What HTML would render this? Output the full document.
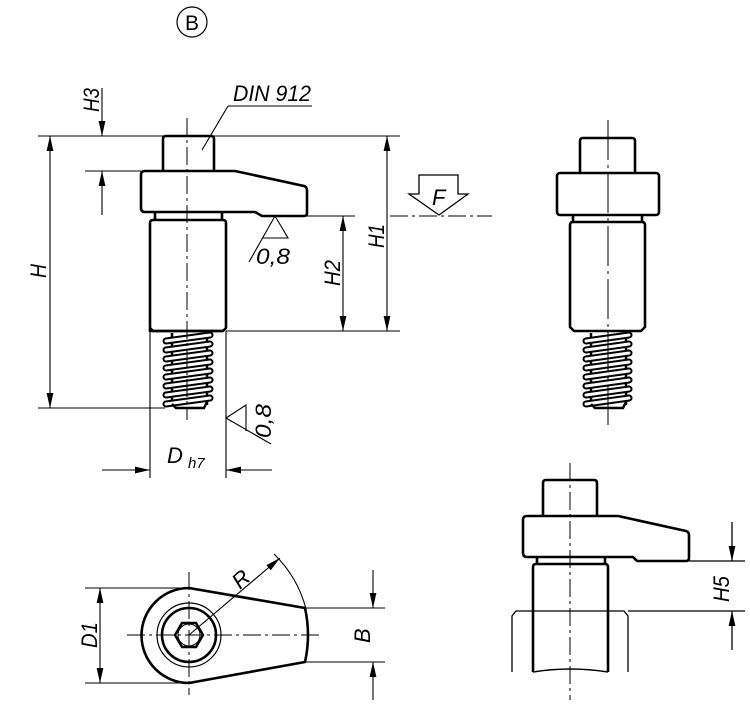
<!DOCTYPE html>
<html><head><meta charset="utf-8"><style>
html,body{margin:0;padding:0;background:#fff;}
svg{display:block;}
text{font-family:"Liberation Sans",sans-serif;font-style:italic;fill:#000;}
</style></head><body>
<svg width="750" height="706" viewBox="0 0 750 706" xmlns="http://www.w3.org/2000/svg">
<defs>
<marker id="a" viewBox="0 0 10 10" refX="10" refY="5" markerWidth="10" markerHeight="10" markerUnits="userSpaceOnUse" orient="auto-start-reverse" overflow="visible">
<path d="M-5,1.6 L10,5 L-5,8.4 Z" fill="#000"/>
</marker>
<g id="thr">
<line x1="0" y1="0" x2="0" y2="72" stroke="#000" stroke-width="2.5"/>
<line x1="35" y1="0" x2="35" y2="72" stroke="#000" stroke-width="2.5"/>
</g>
</defs>
<circle cx="192" cy="22" r="15" fill="none" stroke="#000" stroke-width="1.2"/>
<text x="192" y="30" font-size="21" text-anchor="middle" style="font-style:normal">B</text>

<!-- ===== LEFT MAIN VIEW ===== -->
<g fill="none" stroke="#000" stroke-width="2.6" stroke-linejoin="round">
<path d="M163,171 L163,139 Q163,136 166,136 L211,136 Q214,136 214,139 L214,171"/>
<path d="M145,171 L235,171 L304,186 Q307,187 307,190 L307,213 Q307,216 304,216 L262,216 L255,212 L145,212 Q141,212 141,208 L141,175 Q141,171 145,171 Z"/>
<path d="M155,212 L155,220 M222,212 L222,220"/>
<path d="M150,331 L150,223 Q150,220 153,220 L223,220 Q226,220 226,223 L226,328 L223,331 Z"/>
<path d="M150,328 L153,331 L223,331"/>
</g>
<g transform="translate(172,333)"><use href="#thr"/></g>
<g stroke-linecap="round" fill="none">
<g stroke="#000" stroke-width="7">
<line x1="166" y1="341" x2="210" y2="335"/><line x1="166" y1="350" x2="210" y2="344"/><line x1="166" y1="359" x2="210" y2="353"/><line x1="166" y1="368" x2="210" y2="362"/><line x1="166" y1="377" x2="210" y2="371"/><line x1="166" y1="386" x2="210" y2="380"/><line x1="166" y1="395" x2="210" y2="389"/><line x1="166" y1="404" x2="210" y2="398"/>
</g>
<g stroke="#fff" stroke-width="3">
<line x1="166" y1="341" x2="210" y2="335"/><line x1="166" y1="350" x2="210" y2="344"/><line x1="166" y1="359" x2="210" y2="353"/><line x1="166" y1="368" x2="210" y2="362"/><line x1="166" y1="377" x2="210" y2="371"/><line x1="166" y1="386" x2="210" y2="380"/><line x1="166" y1="395" x2="210" y2="389"/><line x1="166" y1="404" x2="210" y2="398"/>
</g>
</g>
<path d="M172,404 L176,408 L204,408 L207,402" fill="none" stroke="#000" stroke-width="2.5"/>
<line x1="187" y1="118" x2="187" y2="420" stroke="#000" stroke-width="1" stroke-dasharray="18,4,3,4"/>

<g stroke="#000" stroke-width="1.1" fill="none">
<line x1="38" y1="136" x2="400" y2="136"/>
<line x1="85" y1="171" x2="141" y2="171"/>
<line x1="38" y1="408" x2="165" y2="408"/>
<line x1="102" y1="88" x2="102" y2="136" marker-end="url(#a)"/>
<line x1="102" y1="215" x2="102" y2="171" marker-end="url(#a)"/>
<line x1="50" y1="136" x2="50" y2="408" marker-start="url(#a)" marker-end="url(#a)"/>
<line x1="228" y1="106" x2="312" y2="106"/>
<line x1="228" y1="106" x2="202" y2="150"/>
<line x1="307" y1="216" x2="355" y2="216"/>
<line x1="226" y1="331" x2="400" y2="331"/>
<line x1="387" y1="136" x2="387" y2="331" marker-start="url(#a)" marker-end="url(#a)"/>
<line x1="343" y1="216" x2="343" y2="331" marker-start="url(#a)" marker-end="url(#a)"/>
<line x1="390" y1="216" x2="492" y2="216" stroke-dasharray="18,4,3,4"/>
<path d="M419,175 L458,175 L458,194 L468,194 L439,215 L409,194 L419,194 Z" stroke-width="1.3"/>
<path d="M275,216 L288,238 L263,238 M275,216 L249,262"/>
<path d="M226,418 L246,405 L246,431 M226,418 L271,444"/>
<line x1="150" y1="331" x2="150" y2="478"/>
<line x1="226" y1="331" x2="226" y2="478"/>
<line x1="102" y1="470" x2="150" y2="470" marker-end="url(#a)"/>
<line x1="272" y1="470" x2="226" y2="470" marker-end="url(#a)"/>
</g>
<text x="233" y="101" font-size="22" textLength="78" lengthAdjust="spacingAndGlyphs">DIN 912</text>
<text transform="translate(99,112) rotate(-90)" font-size="22" textLength="24" lengthAdjust="spacingAndGlyphs">H3</text>
<text transform="translate(46,278) rotate(-90)" font-size="22" textLength="14" lengthAdjust="spacingAndGlyphs">H</text>
<text transform="translate(384,248) rotate(-90)" font-size="22" textLength="24" lengthAdjust="spacingAndGlyphs">H1</text>
<text transform="translate(340,286) rotate(-90)" font-size="22" textLength="26" lengthAdjust="spacingAndGlyphs">H2</text>
<text x="432" y="205" font-size="22">F</text>
<text x="256" y="264" font-size="22" textLength="34" lengthAdjust="spacingAndGlyphs">0,8</text>
<text transform="translate(271,438) rotate(-90)" font-size="22" textLength="34" lengthAdjust="spacingAndGlyphs">0,8</text>
<text x="167" y="463" font-size="22">D</text>
<text x="188" y="468" font-size="15">h7</text>

<!-- ===== RIGHT TOP VIEW ===== -->
<g fill="none" stroke="#000" stroke-width="2.6" stroke-linejoin="round">
<path d="M580,173 L580,141 Q580,138 583,138 L632,138 Q635,138 635,141 L635,173"/>
<rect x="557" y="173" width="102" height="42" rx="3"/>
<path d="M573,215 L573,222 M642,215 L642,222"/>
<path d="M570,327 L570,225 Q570,222 573,222 L642,222 Q645,222 645,225 L645,327 L641,331 L574,331 Z"/>
</g>
<g transform="translate(591,333)"><use href="#thr"/></g>
<g stroke-linecap="round" fill="none">
<g stroke="#000" stroke-width="7">
<line x1="586" y1="341" x2="629" y2="335"/><line x1="586" y1="350" x2="629" y2="344"/><line x1="586" y1="359" x2="629" y2="353"/><line x1="586" y1="368" x2="629" y2="362"/><line x1="586" y1="377" x2="629" y2="371"/><line x1="586" y1="386" x2="629" y2="380"/><line x1="586" y1="395" x2="629" y2="389"/><line x1="586" y1="404" x2="629" y2="398"/>
</g>
<g stroke="#fff" stroke-width="3">
<line x1="586" y1="341" x2="629" y2="335"/><line x1="586" y1="350" x2="629" y2="344"/><line x1="586" y1="359" x2="629" y2="353"/><line x1="586" y1="368" x2="629" y2="362"/><line x1="586" y1="377" x2="629" y2="371"/><line x1="586" y1="386" x2="629" y2="380"/><line x1="586" y1="395" x2="629" y2="389"/><line x1="586" y1="404" x2="629" y2="398"/>
</g>
</g>
<path d="M591,404 L595,408 L623,408 L626,402" fill="none" stroke="#000" stroke-width="2.5"/>
<line x1="608" y1="120" x2="608" y2="430" stroke="#000" stroke-width="1" stroke-dasharray="40,5,3,5"/>

<!-- ===== BOTTOM RIGHT VIEW ===== -->
<g fill="none" stroke="#000" stroke-width="1.3">
<path d="M512,672 L512,616 L516,611 L624,611 L628,616 L628,672"/>
<line x1="628" y1="611" x2="745" y2="611"/>
<line x1="689" y1="561" x2="745" y2="561"/>
<line x1="732" y1="522" x2="732" y2="561" marker-end="url(#a)"/>
<line x1="732" y1="650" x2="732" y2="611" marker-end="url(#a)"/>
</g>
<g fill="none" stroke="#000" stroke-width="2.6" stroke-linejoin="round">
<path d="M543,516 L543,483 Q543,480 546,480 L594,480 Q597,480 597,483 L597,516"/>
<path d="M527,516 L618,516 L686,531 Q689,532 689,535 L689,558 Q689,561 686,561 L637,561 L633,557 L527,557 Q523,557 523,553 L523,520 Q523,516 527,516 Z"/>
<path d="M537,557 L537,564 M605,557 L605,564"/>
<path d="M533,672 L533,567 Q533,564 536,564 L605,564 Q608,564 608,567 L608,672"/>
<path d="M533,672 Q570,666 608,672" stroke-width="1.5"/>
</g>
<line x1="570" y1="463" x2="570" y2="700" stroke="#000" stroke-width="1" stroke-dasharray="18,4,3,4"/>
<text transform="translate(729,602) rotate(-90)" font-size="22" textLength="26" lengthAdjust="spacingAndGlyphs">H5</text>

<!-- ===== BOTTOM LEFT TOP VIEW ===== -->
<g fill="none" stroke="#000">
<path d="M189,588 L305,608 Q311,635 305,662 L189,683 A47.5,47.5 0 0 1 189,588 Z" stroke-width="2.6" stroke-linejoin="round"/>
<circle cx="189" cy="635" r="32" stroke-width="1.2"/>
<circle cx="189" cy="635" r="27" stroke-width="2.6"/>
<polygon points="203,635 196,647 182,647 175,635 182,623 196,623" stroke-width="2.4"/>
<circle cx="189" cy="635" r="11" stroke-width="1"/>
<line x1="127" y1="635" x2="322" y2="635" stroke-width="1" stroke-dasharray="18,4,3,4"/>
<line x1="189" y1="572" x2="189" y2="695" stroke-width="1" stroke-dasharray="18,4,3,4"/>
<g stroke-width="1.1">
<path d="M274,554 A118,118 0 0 1 306,609"/>
<line x1="189" y1="635" x2="280" y2="558" marker-end="url(#a)"/>
<line x1="85" y1="588" x2="189" y2="588"/>
<line x1="85" y1="683" x2="189" y2="683"/>
<line x1="100" y1="588" x2="100" y2="683" marker-start="url(#a)" marker-end="url(#a)"/>
<line x1="305" y1="608" x2="385" y2="608"/>
<line x1="305" y1="662" x2="385" y2="662"/>
<line x1="373" y1="570" x2="373" y2="608" marker-end="url(#a)"/>
<line x1="373" y1="700" x2="373" y2="662" marker-end="url(#a)"/>
</g>
</g>
<text transform="translate(240,590) rotate(-42)" font-size="22">R</text>
<text transform="translate(97,648) rotate(-90)" font-size="22" textLength="26" lengthAdjust="spacingAndGlyphs">D1</text>
<text transform="translate(370,643) rotate(-90)" font-size="22">B</text>
</svg>
</body></html>
